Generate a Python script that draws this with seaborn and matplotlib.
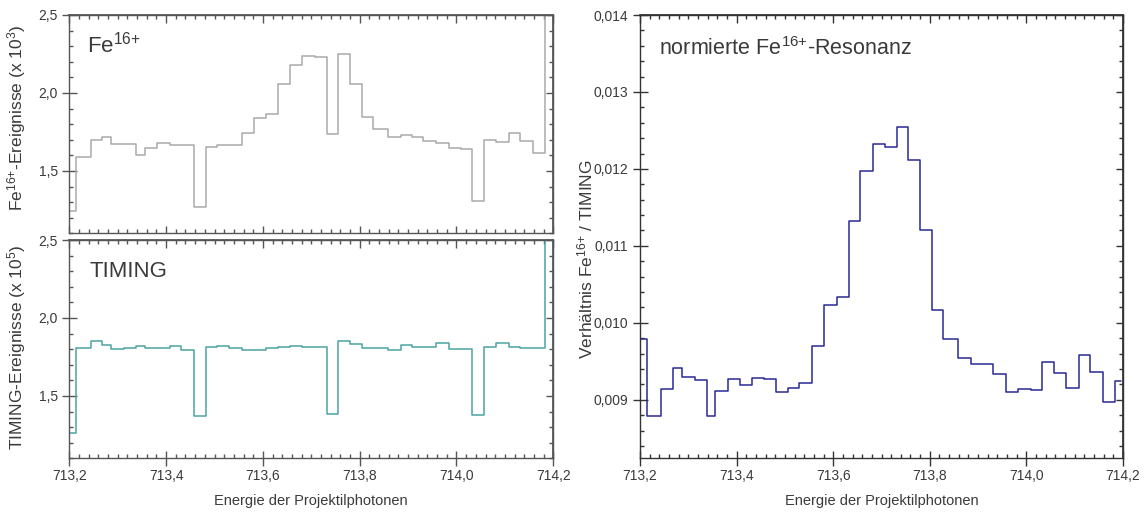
import numpy as np
import pandas as pd
import matplotlib
matplotlib.use("Agg")
import matplotlib.pyplot as plt
import seaborn as sns
from matplotlib.ticker import MultipleLocator, NullFormatter

# Energy bin edges of the photon-energy scan (eV)
bin_edges = [713.2000, 713.2145, 713.2441, 713.2683, 713.2870, 713.3133, 713.3381,
             713.3559, 713.3822, 713.4077, 713.4313, 713.4573, 713.4816, 713.5058,
             713.5302, 713.5561, 713.5816, 713.6072, 713.6321, 713.6561, 713.6818,
             713.7079, 713.7315, 713.7542, 713.7803, 713.8046, 713.8280, 713.8584,
             713.8843, 713.9075, 713.9315, 713.9571, 713.9836, 714.0089, 714.0329,
             714.0578, 714.0826, 714.1085, 714.1321, 714.1576, 714.1834, 714.1952]

# Fe16+ events per bin (x 10^3)
fe_events = [1.240, 1.592, 1.696, 1.718, 1.672, 1.673, 1.603, 1.644, 1.677, 1.668,
             1.664, 1.270, 1.655, 1.667, 1.667, 1.744, 1.841, 1.866, 2.055, 2.179,
             2.238, 2.232, 1.739, 2.247, 2.057, 1.844, 1.772, 1.720, 1.728, 1.719,
             1.694, 1.677, 1.648, 1.641, 1.305, 1.697, 1.686, 1.742, 1.689, 1.618,
             2.960]

# TIMING events per bin (x 10^5)
timing_events = [1.265, 1.810, 1.854, 1.827, 1.799, 1.808, 1.821, 1.808, 1.810, 1.818,
                 1.795, 1.369, 1.816, 1.821, 1.808, 1.797, 1.797, 1.805, 1.812, 1.821,
                 1.816, 1.814, 1.385, 1.853, 1.833, 1.810, 1.805, 1.797, 1.824, 1.812,
                 1.812, 1.840, 1.801, 1.799, 1.376, 1.812, 1.840, 1.816, 1.805, 1.805,
                 3.200]

# Normalised Fe16+ / TIMING ratio
ratio = [0.009792, 0.008787, 0.009138, 0.009410, 0.009294, 0.009260, 0.008796,
         0.009108, 0.009264, 0.009186, 0.009277, 0.009268, 0.009095, 0.009151,
         0.009221, 0.009705, 0.010238, 0.010333, 0.011329, 0.011969, 0.012320,
         0.012286, 0.012540, 0.012121, 0.011201, 0.010173, 0.009796, 0.009545,
         0.009471, 0.009468, 0.009330, 0.009102, 0.009143, 0.009123, 0.009492,
         0.009346, 0.009151, 0.009579, 0.009362, 0.008967, 0.009238]

energy_ticks = [713.2, 713.4, 713.6, 713.8, 714.0, 714.2]
energy_ticklabels = ["713,2", "713,4", "713,6", "713,8", "714,0", "714,2"]
count_ticks = [1.5, 2.0, 2.5]
count_ticklabels = ["1,5", "2,0", "2,5"]
ratio_ticks = [0.009, 0.010, 0.011, 0.012, 0.013, 0.014]
ratio_ticklabels = ["0,009", "0,010", "0,011", "0,012", "0,013", "0,014"]

edges = np.array(bin_edges)
df = pd.DataFrame({
    "energie": (edges[:-1] + edges[1:]) / 2,
    "fe": fe_events,
    "timing": timing_events,
    "ratio": ratio,
})

sns.set_theme(style="ticks")
plt.rcParams["font.family"] = ["Liberation Sans", "DejaVu Sans"]
plt.rcParams["mathtext.default"] = "regular"

W, H = 1148, 513
fig = plt.figure(figsize=(W / 100, H / 100), dpi=100)
fig.patch.set_facecolor("white")


def px_axes(x0, y0, x1, y1):
    return fig.add_axes([x0 / W, 1 - y1 / H, (x1 - x0) / W, (y1 - y0) / H])


ax_fe = px_axes(69.3, 15, 553.3, 233.3)
ax_tm = px_axes(69.3, 240, 553.3, 458.3)
ax_rt = px_axes(640, 15, 1123, 458.3)

TXT = "#3a3a3a"
YLABEL_SIZE = 12.5


def step_hist(ax, column, color):
    sns.histplot(data=df, x="energie", weights=column, bins=bin_edges,
                 element="step", fill=False, color=color, linewidth=1.1,
                 ax=ax, legend=False)


def dress(ax, ylim, yticks, yticklabels, yminor, spine, xlabels):
    ax.set_xlim(713.2, 714.2)
    ax.set_ylim(*ylim)
    ax.set_xticks(energy_ticks)
    ax.set_xticklabels(energy_ticklabels)
    ax.xaxis.set_minor_locator(MultipleLocator(0.02))
    ax.set_yticks(yticks)
    ax.set_yticklabels(yticklabels)
    ax.yaxis.set_minor_locator(MultipleLocator(yminor))
    for s in ax.spines.values():
        s.set_visible(True)
        s.set_color(spine)
        s.set_linewidth(1.0)
    ax.tick_params(axis="y", which="major", direction="inout", length=10.8,
                   width=1.0, color=spine, labelcolor=TXT, labelsize=10, pad=3)
    ax.tick_params(axis="y", which="minor", direction="in", length=3.2,
                   width=1.0, color=spine)
    if xlabels:
        ax.tick_params(axis="x", which="major", direction="inout", length=10.8,
                       width=1.0, color=spine, labelcolor=TXT, labelsize=10, pad=2)
    else:
        ax.tick_params(axis="x", which="major", direction="in", length=5.4,
                       width=1.0, color=spine, labelbottom=False)
    ax.tick_params(axis="x", which="minor", direction="in", length=3.2,
                   width=1.0, color=spine)
    ax.set_xlabel("")
    ax.set_ylabel("")

    top = ax.secondary_xaxis("top")
    top.set_xticks(energy_ticks)
    top.xaxis.set_minor_locator(MultipleLocator(0.02))
    top.xaxis.set_major_formatter(NullFormatter())
    top.tick_params(which="major", direction="in", length=5.4, width=1.0, color=spine)
    top.tick_params(which="minor", direction="in", length=3.2, width=1.0, color=spine)
    top.spines["top"].set_color(spine)

    right = ax.secondary_yaxis("right")
    right.set_yticks(yticks)
    right.yaxis.set_minor_locator(MultipleLocator(yminor))
    right.yaxis.set_major_formatter(NullFormatter())
    right.tick_params(which="major", direction="in", length=5.4, width=1.0, color=spine)
    right.tick_params(which="minor", direction="in", length=3.2, width=1.0, color=spine)
    right.spines["right"].set_color(spine)


# Fe16+ counts
step_hist(ax_fe, "fe", "#a9a9a9")
dress(ax_fe, (1.1, 2.5), count_ticks, count_ticklabels, 0.1, "#555555", False)
ax_fe.text(0.037, 0.827, r"Fe$^{16{+}}$", transform=ax_fe.transAxes, fontsize=16,
           color=TXT, va="baseline", ha="left")
ax_fe.set_ylabel(r"Fe$^{16{+}}$-Ereignisse (x 10$^{3}$)", fontsize=YLABEL_SIZE, color=TXT)
ax_fe.yaxis.set_label_coords(-0.085, 0.53)

# TIMING counts
step_hist(ax_tm, "timing", "#4ba3a3")
dress(ax_tm, (1.1, 2.5), count_ticks, count_ticklabels, 0.1, "#555555", True)
ax_tm.text(0.041, 0.829, "TIMING", transform=ax_tm.transAxes, fontsize=16,
           color=TXT, va="baseline", ha="left")
ax_tm.set_ylabel(r"TIMING-Ereignisse (x 10$^{5}$)", fontsize=YLABEL_SIZE, color=TXT)
ax_tm.yaxis.set_label_coords(-0.085, 0.51)
ax_tm.set_xlabel("Energie der Projektilphotonen", fontsize=10.5, color=TXT)
ax_tm.xaxis.set_label_coords(0.5, -0.163)

# Normalised resonance
step_hist(ax_rt, "ratio", "#2a2a96")
dress(ax_rt, (0.00824, 0.014), ratio_ticks, ratio_ticklabels, 0.0002, "#333333", True)
ax_rt.text(0.039, 0.91, r"normierte Fe$^{16{+}}$-Resonanz", transform=ax_rt.transAxes,
           fontsize=15.5, color=TXT, va="baseline", ha="left")
ax_rt.set_ylabel(r"Verhältnis Fe$^{16{+}}$ / TIMING", fontsize=YLABEL_SIZE, color=TXT)
ax_rt.yaxis.set_label_coords(-0.093, 0.45)
ax_rt.set_xlabel("Energie der Projektilphotonen", fontsize=10.5, color=TXT)
ax_rt.xaxis.set_label_coords(0.5, -0.0805)

fig.savefig("out.png", dpi=100, facecolor="white")
